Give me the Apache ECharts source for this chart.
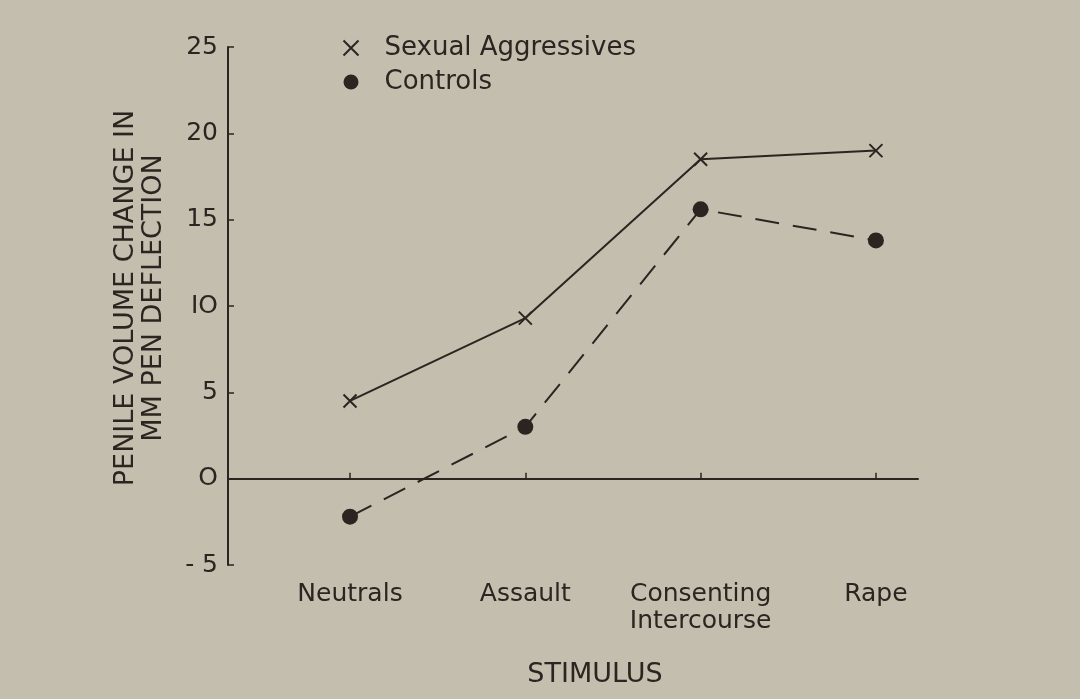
<!DOCTYPE html>
<html>
<head>
<meta charset="utf-8">
<script src="https://cdn.jsdelivr.net/npm/echarts@6/dist/echarts.min.js"></script>
<style>
html,body{margin:0;padding:0;background:#c3beae;}
#chart{width:1080px;height:699px;}
</style>
</head>
<body>
<div id="chart"></div>
<script>
var categories = ['Neutrals', 'Assault', 'Consenting\nIntercourse', 'Rape'];
var aggressives = [4.5, 9.3, 18.5, 19.0];
var controls = [-2.2, 3.0, 15.6, 13.8];
var yTickValues = [-5, 0, 5, 10, 15, 20, 25];
var yTickLabels = ['- 5', 'O', '5', 'IO', '15', '20', '25'];
var seriesNames = ['Sexual Aggressives', 'Controls'];

var ink = '#2b2521';
var font = 'DejaVu Sans';
var crossPath = 'path://M0,0L10,10M10,0L0,10';
var catIdx = categories.map(function (c, i) { return i; });

function pairs(arr) { return arr.map(function (v, i) { return [i, v]; }); }

var chart = echarts.init(document.getElementById('chart'));
chart.setOption({
  backgroundColor: '#c3beae',
  animation: false,
  textStyle: { fontFamily: font, color: ink },
  grid: { left: 228, right: 162, top: 47, bottom: 134 },
  legend: {
    orient: 'vertical',
    left: 336,
    top: 30,
    itemWidth: 15,
    itemHeight: 15,
    itemGap: 8,
    textStyle: { fontFamily: font, fontSize: 26, color: ink, padding: [0, 0, 0, 21] },
    data: [
      { name: seriesNames[0], icon: crossPath, itemStyle: { color: 'none', borderColor: ink, borderWidth: 2 } },
      { name: seriesNames[1], icon: 'circle', itemStyle: { color: ink } }
    ]
  },
  xAxis: [{
    type: 'value',
    min: -0.696,
    max: 3.24,
    position: 'bottom',
    axisLine: { show: false, onZero: false },
    axisTick: { show: false },
    splitLine: { show: false },
    axisLabel: {
      customValues: catIdx,
      formatter: function (v) { return categories[Math.round(v)]; },
      fontFamily: font, fontSize: 25, color: ink, lineHeight: 27, margin: 16,
      verticalAlign: 'top'
    },
    name: 'STIMULUS',
    nameLocation: 'middle',
    nameGap: 96,
    nameTextStyle: { fontFamily: font, fontSize: 27, color: ink, padding: [0, 0, 0, 44] }
  }, {
    type: 'value',
    min: -0.696,
    max: 3.24,
    position: 'bottom',
    axisLine: { show: true, onZero: true, lineStyle: { color: ink, width: 2 } },
    axisTick: { show: true, inside: true, length: 6, customValues: catIdx, lineStyle: { color: ink, width: 1.5 } },
    axisLabel: { show: false },
    splitLine: { show: false }
  }],
  yAxis: {
    type: 'value',
    min: -5,
    max: 25,
    interval: 5,
    axisLine: { show: true, onZero: false, lineStyle: { color: ink, width: 2 } },
    axisTick: { show: true, inside: true, length: 6, lineStyle: { color: ink, width: 1.5 } },
    splitLine: { show: false },
    axisLabel: {
      fontFamily: font, fontSize: 25, color: ink, margin: 10,
      formatter: function (v) { var k = yTickValues.indexOf(v); return k >= 0 ? yTickLabels[k] : ''; }
    },
    name: 'PENILE VOLUME CHANGE IN\nMM PEN DEFLECTION',
    nameLocation: 'middle',
    nameRotate: 90,
    nameGap: 60,
    nameTextStyle: { fontFamily: font, fontSize: 27, color: ink, lineHeight: 28, align: 'center', padding: [0, 0, 0, 16] }
  },
  series: [{
    name: seriesNames[0],
    type: 'line',
    xAxisIndex: 0,
    data: pairs(aggressives),
    symbol: crossPath,
    symbolSize: 13,
    itemStyle: { color: 'none', borderColor: ink, borderWidth: 2 },
    lineStyle: { color: ink, width: 2 }
  }, {
    name: seriesNames[1],
    type: 'line',
    xAxisIndex: 0,
    data: pairs(controls),
    symbol: 'circle',
    symbolSize: 16,
    itemStyle: { color: ink },
    lineStyle: { color: ink, width: 2, type: [24, 14] }
  }]
});
</script>
</body>
</html>
